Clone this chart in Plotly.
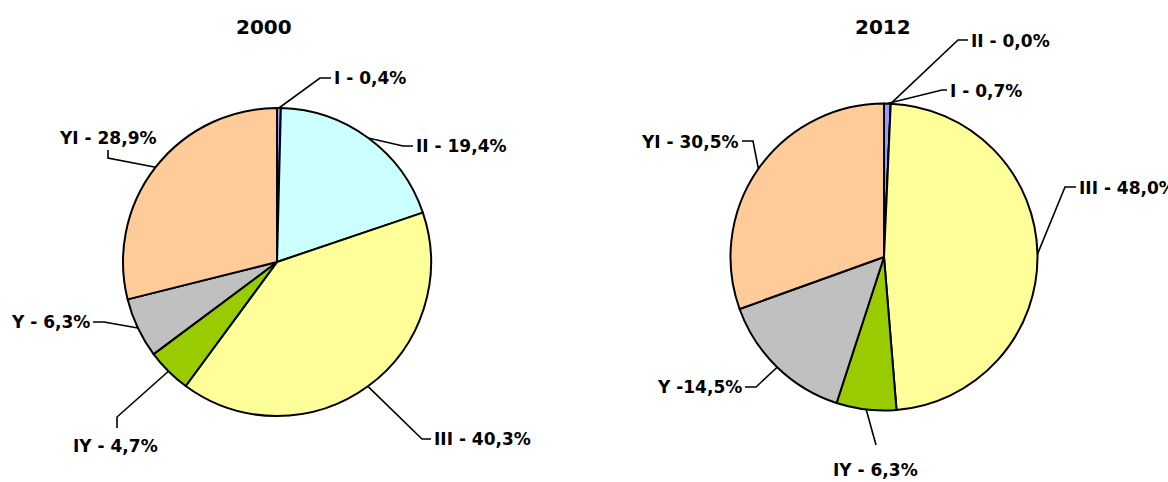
import math
import plotly.graph_objects as go

# ---- data ----
categories = ["I", "II", "III", "IY", "Y", "YI"]
values_2000 = [0.4, 19.4, 40.3, 4.7, 6.3, 28.9]
values_2012 = [0.7, 0.0, 48.0, 6.3, 14.5, 30.5]
labels_2000 = ["I - 0,4%", "II - 19,4%", "III - 40,3%", "IY - 4,7%", "Y - 6,3%", "YI - 28,9%"]
labels_2012 = ["I - 0,7%", "II - 0,0%", "III - 48,0%", "IY - 6,3%", "Y -14,5%", "YI - 30,5%"]
titles = ["2000", "2012"]
colors = ["#9999FF", "#CCFFFF", "#FFFF99", "#99CC00", "#C0C0C0", "#FFCC99"]

# ---- layout geometry (pixels) ----
W, H = 1168, 482
FONT = "DejaVu Sans"
pies = [
    dict(cx=277, cy=262, r=154, values=values_2000, labels=labels_2000, title=titles[0], tx=264, ty=27,
         lab=[
             ([(320, 78), (331, 78)], (332, 78), "left"),
             ([(403, 146), (413, 146)], (414, 146), "left"),
             ([(422, 439), (431, 439)], (432, 439), "left"),
             ([(117, 417), (117, 428)], (115, 446), "center"),
             ([(104, 322), (93, 322)], (92, 322), "right"),
             ([(108, 158), (108, 150)], (108, 138), "center"),
         ]),
    dict(cx=884, cy=257, r=153.5, values=values_2012, labels=labels_2012, title=titles[1], tx=883, ty=27,
         lab=[
             ([(942, 90), (947, 90)], (948, 91), "left"),
             ([(958, 40), (968, 40)], (969, 41), "left"),
             ([(1065, 187), (1076, 187)], (1077, 188), "left"),
             ([(876, 445)], (875, 470), "center"),
             ([(756, 387), (745, 387)], (744, 387), "right"),
             ([(753, 141), (742, 141)], (741, 142), "right"),
         ]),
]

def px(x):
    return x / W

def py(y):
    return 1 - y / H

fig = go.Figure()
shapes = []
annotations = []
for p in pies:
    cx, cy, r = p["cx"], p["cy"], p["r"]
    fig.add_trace(go.Pie(
        labels=categories, values=p["values"], sort=False, direction="clockwise", rotation=0,
        marker=dict(colors=colors, line=dict(color="black", width=2)),
        textinfo="none", hoverinfo="label+percent", showlegend=False,
        domain=dict(x=[px(cx - r), px(cx + r)], y=[py(cy + r), py(cy - r)]),
    ))
    total = sum(p["values"])
    cum = 0.0
    for v, text, (elbows, (tx, ty), anchor) in zip(p["values"], p["labels"], p["lab"]):
        mid = (cum + v / 2) / total * 2 * math.pi
        cum += v
        ax = cx + r * math.sin(mid)
        ay = cy - r * math.cos(mid)
        pts = [(ax, ay)] + elbows
        path = "M " + " L ".join(f"{px(x):.5f},{py(y):.5f}" for x, y in pts)
        shapes.append(dict(type="path", path=path, xref="paper", yref="paper",
                           line=dict(color="black", width=1.6)))
        annotations.append(dict(text=f"<b>{text}</b>", x=px(tx), y=py(ty), xref="paper", yref="paper",
                                xanchor=anchor, yanchor="middle", showarrow=False,
                                font=dict(family=FONT, size=17, color="black")))
    annotations.append(dict(text=f"<b>{p['title']}</b>", x=px(p["tx"]), y=py(p["ty"]), xref="paper",
                            yref="paper", xanchor="center", yanchor="middle", showarrow=False,
                            font=dict(family=FONT, size=20, color="black")))

fig.update_layout(
    width=W, height=H, margin=dict(l=0, r=0, t=0, b=0),
    paper_bgcolor="white", plot_bgcolor="white",
    shapes=shapes, annotations=annotations,
)
fig.write_html("out.html", config={"displayModeBar": False},
               post_script="document.body.style.margin='0';document.body.style.overflow='hidden';")
